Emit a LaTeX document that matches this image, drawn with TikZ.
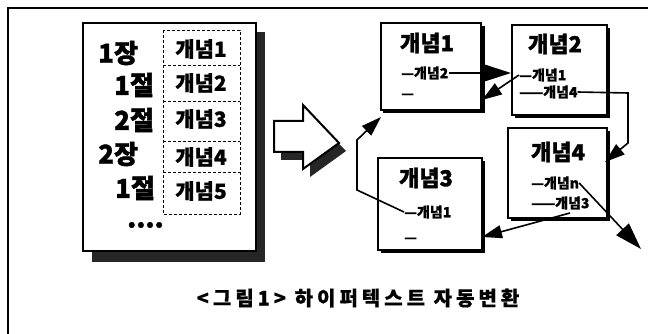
\documentclass[tikz,border=0pt]{standalone}
\usepackage{fontspec}
\setmainfont{Noto Sans CJK KR}
\newfontfamily\kr[BoldFeatures={FakeBold=1.5}]{Noto Sans CJK KR}
\newfontfamily\krs[BoldFeatures={FakeBold=0.8}]{Noto Sans CJK KR}
\newfontfamily\krcap[LetterSpace=20,BoldFeatures={FakeBold=0.6}]{Noto Sans CJK KR}
\usetikzlibrary{arrows.meta}
\tikzset{
  frameline/.style={line width=2pt},
  docbox/.style={draw, line width=2pt, fill=white},
  dashbox/.style={draw, densely dashed, line width=0.6pt},
  biglabel/.style={font=\kr\bfseries\fontsize{26}{26}\selectfont, inner sep=0pt, anchor=west},
  celllabel/.style={font=\krs\bfseries\fontsize{21}{21}\selectfont, inner sep=0pt},
  cbox/.style={draw, line width=2pt, fill=white, inner sep=0pt},
  cshadow/.style={fill=black},
  ctitle/.style={font=\kr\bfseries\fontsize{22}{22}\selectfont, inner sep=0pt},
  csub/.style={font=\krs\bfseries\fontsize{14}{14}\selectfont, inner sep=0pt, anchor=west},
  link/.style={line width=1.6pt, -{Triangle[length=20pt,width=13pt]}},
  biglink/.style={line width=1.6pt, -{Triangle[length=27pt,width=17pt]}},
  captext/.style={font=\krcap\bfseries\fontsize{20}{20}\selectfont, inner sep=0pt},
}
\begin{document}
\begin{tikzpicture}[x=1pt,y=-1pt]
\useasboundingbox (0,0) rectangle (648,334);
\fill[white] (0,0) rectangle (648,334);
% outer frame
\draw[frameline] (8,334) -- (8,8) -- (648,8);

% left document with shadow
\fill[black!85] (92,32) rectangle (265,262);
\draw[docbox] (83,23) rectangle (256,251);
% dashed concept column
\draw[dashbox] (163,30) rectangle (240,214);
\draw[dashbox] (163,65) -- (240,65);
\draw[dashbox] (163,101) -- (240,101);
\draw[dashbox] (163,141) -- (240,141);
\draw[dashbox] (163,172) -- (240,172);

\node[biglabel] (l1) at (98,53) {1장};
\node[biglabel] (l2) at (114,85) {1절};
\node[biglabel] (l3) at (114,120) {2절};
\node[biglabel] (l4) at (98,154) {2장};
\node[biglabel] (l5) at (115,188) {1절};
\node[biglabel] (l6) at (127,225) {....};

\node[celllabel] (k1) at (201,49) {개념1};
\node[celllabel] (k2) at (201,83) {개념2};
\node[celllabel] (k3) at (201,119) {개념3};
\node[celllabel] (k4) at (201,157) {개념4};
\node[celllabel] (k5) at (201,191) {개념5};

% big 3D arrow
\fill[black!85] (281,131) -- (310,131) -- (310,115) -- (346,151) -- (310,177) -- (310,160) -- (281,160) -- cycle;
\draw[line width=2pt, fill=white, line join=miter] (274,121) -- (303,121) -- (303,105) -- (339,143) -- (303,169) -- (303,152) -- (274,152) -- cycle;

% concept boxes (shadows first)
\fill[cshadow] (383,26) rectangle (485,113);
\fill[cshadow] (515,28) rectangle (610,118);
\fill[cshadow] (511,131) rectangle (610,221);
\fill[cshadow] (381,161) rectangle (485,253);
\node[cbox, minimum width=100pt, minimum height=87pt] (b1) at (431,66.5) {};
\node[cbox, minimum width=95pt, minimum height=90pt] (b2) at (559.5,70) {};
\node[cbox, minimum width=99pt, minimum height=90pt] (b4) at (557.5,173) {};
\node[cbox, minimum width=104pt, minimum height=92pt] (b3) at (430,204) {};

\node[ctitle] (t1) at (427,43) {개념1};
\node[ctitle] (t2) at (555,44) {개념2};
\node[ctitle] (t4) at (558,152) {개념4};
\node[ctitle] (t3) at (426,178) {개념3};

\node[csub] (s11) at (401,73) {—개념2};
\node[csub] (s12) at (401,96) {—};
\node[csub] (s21) at (519,75) {—개념1};
\node[csub] (s22) at (519,92) {——개념4};
\node[csub] (s41) at (531,183) {—개념n};
\node[csub] (s42) at (531,203) {——개념3};
\node[csub] (s31) at (404,212) {—개념1};
\node[csub] (s32) at (404,240) {—};

% connector end points
\coordinate (c2) at (482,100);
\coordinate (c3a) at (628,93);
\coordinate (c3b) at (628,143);
\coordinate (c3c) at (605,162);
\coordinate (c4) at (641,249);
\coordinate (c5s) at (570,213);
\coordinate (c5) at (482,237);
\coordinate (c6a) at (357,190);
\coordinate (c6b) at (357,140);
\coordinate (c6) at (381,117);

\draw[biglink] (s11.east) -- (s11.east -| b2.west);
\draw[link] (s21.west) -- (c2);
\draw[link] (s22.east) -- (c3a) -- (c3b) -- (c3c);
\draw[biglink] (s41.east) -- (c4);
\draw[link] (c5s) -- (c5);
\draw[link] (s31.west) -- (c6a) -- (c6b) -- (c6);

% caption
\node[captext] (cap) at (358,298) {<그림1> 하이퍼텍스트 자동변환};
\end{tikzpicture}
\end{document}
